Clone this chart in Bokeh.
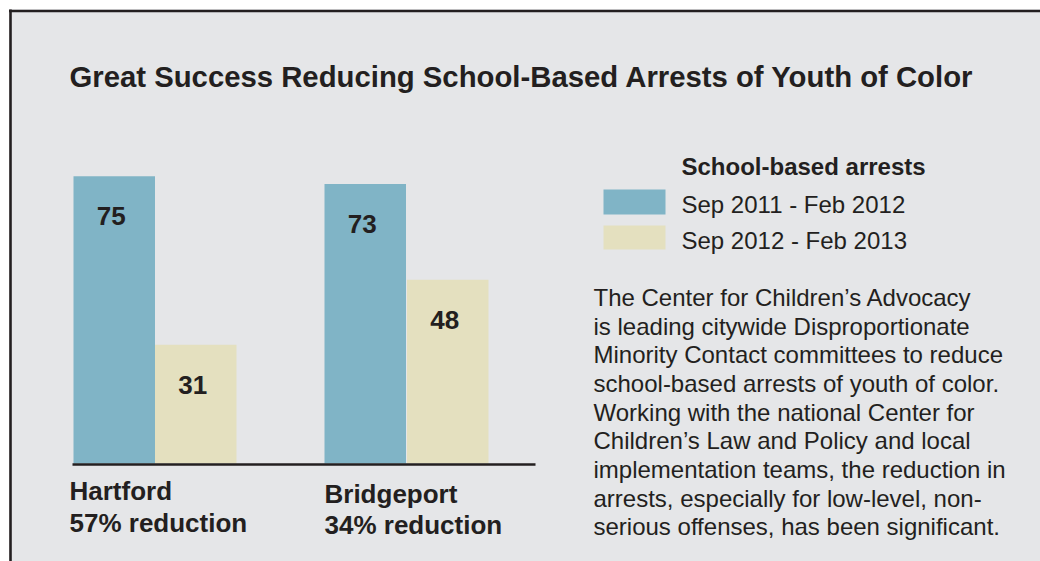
from bokeh.plotting import figure
from bokeh.models import Range1d
from bokeh.core.properties import value
from bokeh.embed import file_html
from bokeh.resources import INLINE

# ---------------- data ----------------
title = "Great Success Reducing School-Based Arrests of Youth of Color"
cities = ["Hartford", "Bridgeport"]
reductions = ["57% reduction", "34% reduction"]
arrests_2011 = [75, 73]
arrests_2012 = [31, 48]
periods = ["Sep 2011 - Feb 2012", "Sep 2012 - Feb 2013"]
legend_title = "School-based arrests"
paragraph = [
    "The Center for Children\u2019s Advocacy",
    "is leading citywide Disproportionate",
    "Minority Contact committees to reduce",
    "school-based arrests of youth of color.",
    "Working with the national Center for",
    "Children\u2019s Law and Policy and local",
    "implementation teams, the reduction in",
    "arrests, especially for low-level, non-",
    "serious offenses, has been significant.",
]

# ---------------- style ----------------
BG = "#e5e6e8"
BLUE = "#80b4c6"
BEIGE = "#e4e0bf"
INK = "#231f20"
FONT = value("Liberation Sans")

W, H = 1040, 561
X0, Y0 = 0, 0

BASE_Y = 463.0        # screen y of zero
PX_PER_UNIT = 3.83    # screen px per arrest

p = figure(width=W, height=H, output_backend="svg", toolbar_location=None,
           x_range=Range1d(X0, X0 + W), y_range=Range1d(Y0 + H, Y0),
           min_border=0, outline_line_color=None,
           background_fill_color="white", border_fill_color="white")
p.axis.visible = False
p.grid.visible = False
p.extra_y_ranges = {"arrests": Range1d(start=(BASE_Y - (Y0 + H)) / PX_PER_UNIT,
                                       end=(BASE_Y - Y0) / PX_PER_UNIT)}

# panel
p.quad(left=9, right=X0 + W, top=9, bottom=Y0 + H, fill_color=BG, line_color=None)
p.segment(x0=[8.5], y0=[10.5], x1=[X0 + W], y1=[10.5], line_color=INK, line_width=2.6)
p.segment(x0=[10], y0=[9], x1=[10], y1=[Y0 + H], line_color=INK, line_width=2.6)

# title
p.text(x=[69], y=[87 - 11.5], text=[title], text_font=FONT, text_font_style="bold",
       text_font_size="29.3px", text_color=INK, text_baseline="alphabetic", text_align="left")

# bars
group_left = [73, 324]
bar_w = 81.5
x_a = [g + bar_w / 2 for g in group_left]
x_b = [g + bar_w * 1.5 + (1 if i == 1 else 0) for i, g in enumerate(group_left)]
p.vbar(x=x_a, top=arrests_2011, bottom=0, width=bar_w, y_range_name="arrests",
       fill_color=BLUE, line_color=None)
p.vbar(x=x_b, top=arrests_2012, bottom=0, width=bar_w, y_range_name="arrests",
       fill_color=BEIGE, line_color=None)

# value labels
for xs, vals in ((x_a, arrests_2011), (x_b, arrests_2012)):
    p.text(x=xs, y=vals, text=[str(v) for v in vals], y_range_name="arrests",
           x_offset=-3, y_offset=40, text_font=FONT, text_font_style="bold",
           text_font_size="26px", text_color=INK, text_baseline="middle",
           text_align="center")

# baseline
p.segment(x0=[72], y0=[464], x1=[535], y1=[464], line_color=INK, line_width=2.6)

# category labels
label_x = [69, 324]
p.text(x=label_x, y=[490, 493], text=cities, text_font=FONT,
       text_font_style="bold", text_font_size="26px", text_color=INK,
       text_baseline="alphabetic", text_align="left")
p.text(x=label_x, y=[522, 524], text=reductions, text_font=FONT,
       text_font_style="bold", text_font_size="26px", text_color=INK,
       text_baseline="alphabetic", text_align="left")

# legend
p.text(x=[681], y=[175 - 9], text=[legend_title], text_font=FONT, text_font_style="bold",
       text_font_size="24px", text_color=INK, text_baseline="alphabetic", text_align="left")
p.quad(left=[603, 603], right=[665, 665], top=[189, 225], bottom=[214, 249],
       fill_color=[BLUE, BEIGE], line_color=None)
p.text(x=[681, 681], y=[213 - 9, 249 - 9], text=periods, text_font=FONT,
       text_font_size="24px", text_color=INK, text_baseline="alphabetic", text_align="left")

# paragraph
p.text(x=[593] * len(paragraph), y=[297 + 28.65 * i for i in range(len(paragraph))],
       text=paragraph, text_font=FONT, text_font_size="24px", text_color=INK,
       text_baseline="alphabetic", text_align="left")

open("out.html", "w").write(file_html(p, INLINE))
